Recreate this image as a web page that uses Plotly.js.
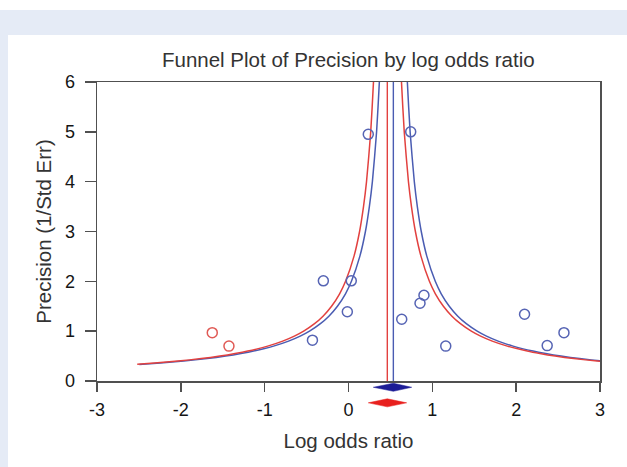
<!DOCTYPE html>
<html>
<head>
<meta charset="utf-8">
<script src="https://cdn.plot.ly/plotly-3.0.1.min.js"></script>
<style>
  html, body { margin: 0; padding: 0; background: #ffffff; }
  #bg { position: absolute; left: 0; top: 0; width: 627px; height: 467px; background: #ffffff; }
  #band { position: absolute; left: 0; top: 10px; width: 627px; height: 25px; background: #e5ebf6; }
  #strip { position: absolute; left: 0; top: 10px; width: 8px; height: 457px; background: #e5ebf6; }
  #chart { position: absolute; left: 0; top: 0; width: 627px; height: 467px; }
</style>
</head>
<body>
<div id="bg"><div id="band"></div><div id="strip"></div></div>
<div id="chart"></div>
<script>
// Observed studies (blue circles)
const studyLogOR = [0.236, 0.742, -0.30, 0.033, -0.014, -0.43, 0.635, 0.853, 0.90, 1.16, 2.10, 2.57, 2.37];
const studyPrecision = [4.95, 5.00, 2.01, 2.01, 1.39, 0.82, 1.24, 1.56, 1.72, 0.70, 1.34, 0.97, 0.71];
// Imputed studies (red circles)
const imputedLogOR = [-1.625, -1.426];
const imputedPrecision = [0.97, 0.70];

// Summary effects (observed = blue, adjusted = red)
const observedMean = 0.535, observedLo = 0.296, observedHi = 0.754;
const adjustedMean = 0.463, adjustedLo = 0.236, adjustedHi = 0.694;

// Funnel limit curves
const funnelPrecBlue = [0.33, 0.36, 0.4, 0.45, 0.5, 0.55, 0.6, 0.7, 0.8, 0.9, 1.0, 1.15, 1.3, 1.5, 1.75, 2.0, 2.5, 3.0, 3.5, 4.0, 5.0, 6.0, 6.5];
const funnelPrecRed  = [0.335, 0.36, 0.4, 0.45, 0.5, 0.55, 0.6, 0.7, 0.8, 0.9, 1.0, 1.15, 1.3, 1.5, 1.75, 2.0, 2.5, 3.0, 3.5, 4.0, 5.0, 6.0, 6.5];
const blueLeft  = [-2.495, -2.243, -1.965, -1.687, -1.465, -1.283, -1.132, -0.894, -0.715, -0.576, -0.465, -0.335, -0.234, -0.132, -0.036, 0.035, 0.135, 0.202, 0.249, 0.285, 0.335, 0.368, 0.381];
const blueRight = [3.565, 3.313, 3.035, 2.757, 2.535, 2.353, 2.202, 1.964, 1.785, 1.646, 1.535, 1.405, 1.304, 1.202, 1.106, 1.035, 0.935, 0.868, 0.821, 0.785, 0.735, 0.702, 0.689];
const redLeft   = [-2.520, -2.313, -2.035, -1.757, -1.535, -1.353, -1.202, -0.964, -0.785, -0.646, -0.535, -0.405, -0.304, -0.202, -0.106, -0.035, 0.065, 0.132, 0.179, 0.215, 0.265, 0.298, 0.311];
const redRight  = [3.450, 3.243, 2.965, 2.687, 2.465, 2.283, 2.132, 1.894, 1.715, 1.576, 1.465, 1.335, 1.234, 1.132, 1.036, 0.965, 0.865, 0.798, 0.751, 0.715, 0.665, 0.632, 0.619];

const xTicks = [-3, -2, -1, 0, 1, 2, 3];
const yTicks = [0, 1, 2, 3, 4, 5, 6];

const BLUE = '#4a5cb2', RED = '#e2413f';
const FONT = 'Liberation Sans, Arial, sans-serif';

const lineCurve = (x, y, color) => ({
  type: 'scatter', mode: 'lines', x: x, y: y,
  line: {color: color, width: 1.5, shape: 'spline', smoothing: 0.6},
  hoverinfo: 'skip', showlegend: false
});

const traces = [
  lineCurve(blueLeft, funnelPrecBlue, BLUE),
  lineCurve(blueRight, funnelPrecBlue, BLUE),
  lineCurve(redLeft, funnelPrecRed, RED),
  lineCurve(redRight, funnelPrecRed, RED),
  {type: 'scatter', mode: 'lines', x: [observedMean, observedMean], y: [0, 6.5],
   line: {color: BLUE, width: 1.4}, showlegend: false},
  {type: 'scatter', mode: 'lines', x: [adjustedMean, adjustedMean], y: [0, 6.5],
   line: {color: RED, width: 1.4}, showlegend: false},
  {type: 'scatter', mode: 'markers', x: studyLogOR, y: studyPrecision,
   marker: {symbol: 'circle-open', size: 10, color: '#5664b4', line: {width: 1.5}}, showlegend: false},
  {type: 'scatter', mode: 'markers', x: imputedLogOR, y: imputedPrecision,
   marker: {symbol: 'circle-open', size: 10, color: '#e05a55', line: {width: 1.5}}, showlegend: false}
];

const diamond = (lo, m, hi, yc, h, color) => ({
  type: 'path', xref: 'x', yref: 'paper',
  path: `M ${lo},${yc} L ${m},${yc + h} L ${hi},${yc} L ${m},${yc - h} Z`,
  fillcolor: color, line: {color: color, width: 0.5}
});

const axisCommon = {
  showgrid: false, zeroline: false, showline: true, mirror: true,
  linecolor: '#505050', linewidth: 1.5,
  ticks: 'outside', tickcolor: '#505050', tickwidth: 1.5,
  tickfont: {family: FONT, size: 18, color: '#151515'},
  fixedrange: true
};

const layout = {
  width: 627, height: 467,
  margin: {l: 97, r: 27, t: 82, b: 86},
  paper_bgcolor: 'rgba(0,0,0,0)', plot_bgcolor: 'rgba(0,0,0,0)',
  font: {family: FONT, color: '#333333'},
  title: {text: 'Funnel Plot of Precision by log odds ratio', x: 0.5555, xanchor: 'center',
          y: 0.872, yanchor: 'middle', font: {family: FONT, size: 20.5, color: '#333333'}},
  xaxis: Object.assign({}, axisCommon, {
    range: [-3, 3], tickvals: xTicks, ticktext: xTicks.map(String), ticklen: 9,
    ticklabelstandoff: 3,
    title: {text: 'Log odds ratio', font: {family: FONT, size: 20.5, color: '#333333'}, standoff: 14}
  }),
  yaxis: Object.assign({}, axisCommon, {
    range: [0, 6], tickvals: yTicks, ticktext: yTicks.map(String), ticklen: 11,
    ticklabelstandoff: 6,
    title: {text: 'Precision (1/Std Err)', font: {family: FONT, size: 20.5, color: '#333333'}, standoff: 7}
  }),
  shapes: [
    diamond(observedLo, observedMean, observedHi, -0.021, 0.0135, '#1c1c96'),
    diamond(adjustedLo, adjustedMean, adjustedHi, -0.073, 0.0135, '#e8201e')
  ],
  showlegend: false
};

Plotly.newPlot('chart', traces, layout, {displayModeBar: false, staticPlot: true});
</script>
</body>
</html>
